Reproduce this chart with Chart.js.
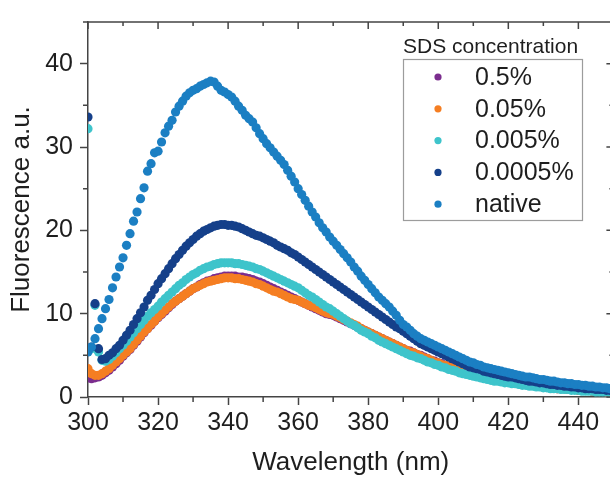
<!DOCTYPE html>
<html>
<head>
<meta charset="utf-8">
<script src="https://cdn.jsdelivr.net/npm/chart.js@4.4.1/dist/chart.umd.min.js"></script>
<style>
  html, body { margin: 0; padding: 0; background: #fff; overflow: hidden; }
  #wrap { width: 610px; height: 478px; overflow: hidden; }
  #myChart { display: block; }
</style>
</head>
<body>
<div id="wrap"><canvas id="myChart" width="618" height="478" style="width:618px;height:478px"></canvas></div>
<script>
'use strict';

// wavelength in nm, one reading per nm
let wavelength = [
  300, 301, 302, 303, 304, 305, 306, 307, 308, 309,
  310, 311, 312, 313, 314, 315, 316, 317, 318, 319,
  320, 321, 322, 323, 324, 325, 326, 327, 328, 329,
  330, 331, 332, 333, 334, 335, 336, 337, 338, 339,
  340, 341, 342, 343, 344, 345, 346, 347, 348, 349,
  350, 351, 352, 353, 354, 355, 356, 357, 358, 359,
  360, 361, 362, 363, 364, 365, 366, 367, 368, 369,
  370, 371, 372, 373, 374, 375, 376, 377, 378, 379,
  380, 381, 382, 383, 384, 385, 386, 387, 388, 389,
  390, 391, 392, 393, 394, 395, 396, 397, 398, 399,
  400, 401, 402, 403, 404, 405, 406, 407, 408, 409,
  410, 411, 412, 413, 414, 415, 416, 417, 418, 419,
  420, 421, 422, 423, 424, 425, 426, 427, 428, 429,
  430, 431, 432, 433, 434, 435, 436, 437, 438, 439,
  440, 441, 442, 443, 444, 445, 446, 447, 448, 449,
  450
];

// 0.5% SDS
let sds05 = [
  2.3, 2.2, 2.3, 2.4, 2.6, 2.9, 3.2, 3.6, 4.0, 4.4,
  4.9, 5.3, 5.7, 6.2, 6.7, 7.2, 7.7, 8.2, 8.6, 9.1,
  9.5, 9.9, 10.3, 10.7, 11.1, 11.5, 11.8, 12.1, 12.4, 12.7,
  13.0, 13.2, 13.5, 13.7, 13.9, 14.0, 14.2, 14.3, 14.4, 14.5,
  14.5, 14.5, 14.5, 14.4, 14.4, 14.3, 14.2, 14.1, 13.9, 13.8,
  13.6, 13.4, 13.2, 13.0, 12.8, 12.6, 12.4, 12.2, 12.0, 11.8,
  11.6, 11.4, 11.2, 11.0, 10.8, 10.6, 10.4, 10.2, 10.0, 9.9,
  9.8, 9.6, 9.4, 9.2, 9.0, 8.8, 8.6, 8.4, 8.2, 8.0,
  7.8, 7.6, 7.4, 7.2, 7.0, 6.8, 6.6, 6.4, 6.2, 6.0,
  5.8, 5.6, 5.5, 5.3, 5.1, 5.0, 4.8, 4.6, 4.4, 4.3,
  4.1, 4.0, 3.8, 3.7, 3.5, 3.4, 3.2, 3.1, 3.0, 2.9,
  2.7, 2.6, 2.5, 2.4, 2.3, 2.2, 2.1, 2.0, 2.0, 1.9,
  1.8, 1.7, 1.7, 1.6, 1.5, 1.5, 1.4, 1.4, 1.3, 1.3,
  1.2, 1.2, 1.1, 1.1, 1.0, 1.0, 1.0, 0.9, 0.9, 0.9,
  0.8, 0.8, 0.8, 0.8, 0.7, 0.7, 0.7, 0.7, 0.6, 0.6,
  0.6
];

// 0.05% SDS
let sds005 = [
  3.4, 2.8, 2.6, 2.6, 2.8, 3.1, 3.4, 3.8, 4.2, 4.6,
  5.0, 5.4, 5.8, 6.3, 6.8, 7.3, 7.8, 8.2, 8.7, 9.1,
  9.6, 10.0, 10.4, 10.8, 11.2, 11.5, 11.8, 12.1, 12.4, 12.7,
  13.0, 13.2, 13.4, 13.6, 13.8, 13.9, 14.0, 14.1, 14.2, 14.3,
  14.3, 14.3, 14.2, 14.2, 14.1, 14.0, 13.9, 13.8, 13.6, 13.5,
  13.3, 13.1, 12.9, 12.7, 12.6, 12.4, 12.2, 12.0, 11.8, 11.7,
  11.6, 11.4, 11.2, 11.0, 10.9, 10.7, 10.5, 10.3, 10.1, 10.0,
  9.9, 9.7, 9.5, 9.3, 9.1, 8.9, 8.7, 8.5, 8.2, 8.0,
  7.8, 7.6, 7.4, 7.2, 7.0, 6.8, 6.6, 6.4, 6.2, 6.0,
  5.8, 5.6, 5.4, 5.3, 5.1, 4.9, 4.7, 4.6, 4.4, 4.2,
  4.1, 3.9, 3.8, 3.6, 3.5, 3.3, 3.2, 3.1, 3.0, 2.8,
  2.7, 2.6, 2.5, 2.4, 2.3, 2.2, 2.1, 2.0, 1.9, 1.9,
  1.8, 1.7, 1.7, 1.6, 1.5, 1.5, 1.4, 1.4, 1.3, 1.3,
  1.2, 1.2, 1.1, 1.1, 1.0, 1.0, 1.0, 0.9, 0.9, 0.9,
  0.8, 0.8, 0.8, 0.8, 0.7, 0.7, 0.7, 0.7, 0.6, 0.6,
  0.6
];

// 0.005% SDS
let sds0005 = [
  32.2, 5.8, 11.0, 5.4, 4.4, 4.3, 4.5, 4.9, 5.3, 5.8,
  6.2, 6.7, 7.2, 7.7, 8.2, 8.7, 9.2, 9.7, 10.1, 10.5,
  10.9, 11.4, 11.8, 12.2, 12.6, 13.0, 13.4, 13.7, 14.1, 14.4,
  14.7, 14.9, 15.2, 15.4, 15.6, 15.7, 15.9, 16.0, 16.1, 16.1,
  16.1, 16.1, 16.0, 16.0, 15.9, 15.8, 15.7, 15.6, 15.4, 15.3,
  15.1, 14.9, 14.7, 14.5, 14.3, 14.1, 13.9, 13.7, 13.5, 13.3,
  13.1, 12.8, 12.5, 12.2, 12.0, 11.7, 11.4, 11.1, 10.8, 10.6,
  10.3, 10.0, 9.7, 9.4, 9.1, 8.8, 8.6, 8.3, 8.0, 7.8,
  7.6, 7.3, 7.1, 6.8, 6.6, 6.4, 6.2, 6.0, 5.8, 5.6,
  5.4, 5.2, 5.0, 4.9, 4.7, 4.6, 4.4, 4.2, 4.1, 3.9,
  3.8, 3.6, 3.5, 3.3, 3.2, 3.1, 2.9, 2.8, 2.7, 2.6,
  2.5, 2.4, 2.3, 2.2, 2.1, 2.0, 1.9, 1.9, 1.8, 1.7,
  1.7, 1.6, 1.6, 1.5, 1.4, 1.4, 1.3, 1.3, 1.2, 1.2,
  1.1, 1.1, 1.0, 1.0, 1.0, 0.9, 0.9, 0.9, 0.8, 0.8,
  0.8, 0.7, 0.7, 0.7, 0.7, 0.6, 0.6, 0.6, 0.6, 0.5,
  0.5
];

// 0.0005% SDS
let sds00005 = [
  33.6, 6.0, 11.2, 5.8, 4.5, 4.6, 5.0, 5.3, 5.8, 6.2,
  6.8, 7.4, 8.0, 8.7, 9.4, 10.1, 10.8, 11.6, 12.2, 12.9,
  13.6, 14.2, 14.8, 15.4, 16.0, 16.6, 17.1, 17.6, 18.1, 18.5,
  18.9, 19.3, 19.6, 19.9, 20.1, 20.3, 20.5, 20.6, 20.7, 20.7,
  20.6, 20.6, 20.5, 20.4, 20.2, 20.0, 19.8, 19.6, 19.4, 19.3,
  19.1, 18.9, 18.7, 18.5, 18.2, 18.0, 17.8, 17.6, 17.3, 17.1,
  16.8, 16.5, 16.2, 15.9, 15.6, 15.3, 15.0, 14.7, 14.4, 14.1,
  13.8, 13.5, 13.2, 12.9, 12.6, 12.3, 12.0, 11.7, 11.4, 11.1,
  10.8, 10.5, 10.2, 9.9, 9.6, 9.3, 9.0, 8.7, 8.4, 8.2,
  7.9, 7.6, 7.3, 7.0, 6.7, 6.4, 6.2, 6.0, 5.8, 5.6,
  5.4, 5.2, 5.0, 4.8, 4.6, 4.4, 4.2, 4.0, 3.8, 3.6,
  3.5, 3.4, 3.3, 3.1, 3.0, 2.9, 2.8, 2.7, 2.6, 2.5,
  2.4, 2.4, 2.3, 2.2, 2.1, 2.0, 1.9, 1.9, 1.8, 1.7,
  1.7, 1.6, 1.5, 1.5, 1.4, 1.4, 1.3, 1.3, 1.2, 1.2,
  1.1, 1.1, 1.0, 1.0, 1.0, 0.9, 0.9, 0.9, 0.8, 0.8,
  0.8
];

// native protein, no SDS
let native = [
  5.4, 6.0, 7.0, 8.2, 9.4, 10.6, 11.7, 13.1, 14.4, 15.6,
  16.7, 18.2, 19.6, 21.1, 22.2, 23.8, 25.1, 27.1, 28.0, 29.3,
  29.5, 30.6, 31.7, 32.5, 33.2, 34.2, 34.9, 35.5, 36.1, 36.5,
  36.8, 37.0, 37.3, 37.5, 37.7, 37.9, 37.8, 37.3, 36.8, 36.6,
  36.3, 36.0, 35.5, 34.9, 34.4, 33.8, 33.4, 33.0, 32.3, 31.6,
  31.0, 30.4, 29.9, 29.4, 28.9, 28.4, 27.9, 27.2, 26.5, 25.8,
  25.0, 24.3, 23.6, 22.9, 22.2, 21.6, 20.9, 20.3, 19.8, 19.2,
  18.7, 18.2, 17.7, 17.2, 16.7, 16.2, 15.6, 15.1, 14.5, 14.0,
  13.5, 13.0, 12.5, 12.0, 11.6, 11.2, 10.8, 10.3, 9.8, 9.2,
  8.7, 8.4, 8.0, 7.6, 7.3, 7.0, 6.8, 6.6, 6.4, 6.2,
  6.0, 5.8, 5.6, 5.4, 5.2, 5.0, 4.8, 4.6, 4.4, 4.2,
  4.1, 3.9, 3.8, 3.6, 3.5, 3.4, 3.3, 3.2, 3.1, 3.0,
  2.9, 2.8, 2.7, 2.6, 2.5, 2.4, 2.4, 2.3, 2.2, 2.1,
  2.1, 2.0, 1.9, 1.9, 1.8, 1.7, 1.7, 1.6, 1.6, 1.5,
  1.5, 1.4, 1.4, 1.3, 1.3, 1.2, 1.2, 1.1, 1.1, 1.0,
  1.0
];

let seriesNames = ['0.5%', '0.05%', '0.005%', '0.0005%', 'native'];
let seriesValues = [sds05, sds005, sds0005, sds00005, native];
let seriesColors = ['#7b2d8e', '#f57e22', '#3ec4cb', '#15408a', '#1b7fc3'];

let xTickLabels = [300, 320, 340, 360, 380, 400, 420, 440];
let yTickLabels = [0, 10, 20, 30, 40];

let legendTitle = 'SDS concentration';
let xTitle = 'Wavelength (nm)';
let yTitle = 'Fluorescence a.u.';

let fontFamily = '"Liberation Sans", Arial, Helvetica, sans-serif';
let axisColor = '#444';
let textColor = '#1e1e1e';

// the rest of the frame: top and right lines, minor ticks and inward ticks
let frameBox = {
  id: 'frameBox',
  afterDraw(chart) {
    let ctx = chart.ctx;
    let a = chart.chartArea;
    let xs = chart.scales.x;
    let ys = chart.scales.y;
    ctx.save();
    ctx.strokeStyle = axisColor;
    ctx.lineWidth = 1.5;
    ctx.beginPath();
    ctx.moveTo(a.left, a.top);
    ctx.lineTo(a.right, a.top);
    ctx.lineTo(a.right, a.bottom);
    for (let v = 300; v <= 450; v += 10) {
      let px = xs.getPixelForValue(v);
      let major = xTickLabels.includes(v);
      ctx.moveTo(px, a.top);
      ctx.lineTo(px, a.top + (major ? 7 : 4));
      if (!major) {
        ctx.moveTo(px, a.bottom);
        ctx.lineTo(px, a.bottom + 5);
      }
    }
    for (let v = 0; v <= 45; v += 5) {
      let py = ys.getPixelForValue(v);
      let major = yTickLabels.includes(v);
      ctx.moveTo(a.right, py);
      ctx.lineTo(a.right - (major ? 7 : 4), py);
      if (!major) {
        ctx.moveTo(a.left, py);
        ctx.lineTo(a.left - 5, py);
      }
    }
    ctx.stroke();
    ctx.restore();
  }
};

// boxed legend with a title above it
let boxLegend = {
  id: 'boxLegend',
  afterDraw(chart) {
    let ctx = chart.ctx;
    ctx.save();
    ctx.fillStyle = textColor;
    ctx.font = '21px ' + fontFamily;
    ctx.textAlign = 'left';
    ctx.textBaseline = 'alphabetic';
    ctx.fillText(legendTitle, 403, 53);

    ctx.strokeStyle = '#9c9c9c';
    ctx.lineWidth = 1.2;
    ctx.strokeRect(403.5, 59.5, 179, 161);

    ctx.font = '25px ' + fontFamily;
    ctx.textBaseline = 'middle';
    chart.data.datasets.forEach(function (ds, i) {
      let y = 77 + i * 31.8;
      ctx.fillStyle = ds.backgroundColor;
      ctx.beginPath();
      ctx.arc(438, y, 3.6, 0, Math.PI * 2);
      ctx.fill();
      ctx.fillStyle = textColor;
      ctx.fillText(ds.label, 475, y + 1);
    });
    ctx.restore();
  }
};

let datasets = [];
for (let i = 0; i < seriesNames.length; i++) {
  datasets.push({
    label: seriesNames[i],
    data: wavelength.map(function (w, j) { return { x: w, y: seriesValues[i][j] }; }),
    backgroundColor: seriesColors[i],
    borderColor: seriesColors[i],
    borderWidth: 0,
    pointRadius: 4.6,
    pointHoverRadius: 4.6,
    order: seriesNames.length - i   // native drawn last, on top
  });
}

let ctx = document.getElementById('myChart').getContext('2d');
let chart = new Chart(ctx, {
  type: 'scatter',
  data: { datasets: datasets },
  plugins: [frameBox, boxLegend],
  options: {
    responsive: false,
    animation: false,
    devicePixelRatio: 1,
    // canvas is wider than the page: the right frame falls just outside, as in the original crop
    layout: { padding: { top: 13, right: 1, bottom: 0, left: 0 } },
    plugins: {
      legend: { display: false },
      tooltip: { enabled: false }
    },
    scales: {
      x: {
        type: 'linear',
        min: 300,
        max: 450,
        afterFit: function (scale) { scale.height = 81; },
        border: { display: true, color: axisColor, width: 1.5 },
        grid: {
          drawOnChartArea: false,
          drawTicks: true,
          tickLength: 8,
          tickWidth: 1.5,
          tickColor: function (c) { return xTickLabels.includes(c.tick.value) ? axisColor : 'rgba(0,0,0,0)'; }
        },
        ticks: {
          stepSize: 10,
          autoSkip: false,
          maxRotation: 0,
          padding: 3,
          color: textColor,
          font: { family: fontFamily, size: 25 },
          callback: function (v) { return xTickLabels.includes(v) ? String(v) : ''; }
        },
        title: {
          display: true,
          text: xTitle,
          color: textColor,
          padding: { top: 0, bottom: 0 },
          font: { family: fontFamily, size: 26 }
        }
      },
      y: {
        min: 0,
        max: 45,
        afterFit: function (scale) { scale.width = 88; },
        border: { display: true, color: axisColor, width: 1.5 },
        grid: {
          drawOnChartArea: false,
          drawTicks: true,
          tickLength: 8,
          tickWidth: 1.5,
          tickColor: function (c) { return yTickLabels.includes(c.tick.value) ? axisColor : 'rgba(0,0,0,0)'; }
        },
        ticks: {
          stepSize: 5,
          autoSkip: false,
          padding: 7,
          color: textColor,
          font: { family: fontFamily, size: 25 },
          callback: function (v) { return yTickLabels.includes(v) ? String(v) : ''; }
        },
        title: {
          display: true,
          text: yTitle,
          color: textColor,
          padding: { top: 6, bottom: 0 },
          font: { family: fontFamily, size: 26 }
        }
      }
    }
  }
});
</script>
</body>
</html>
